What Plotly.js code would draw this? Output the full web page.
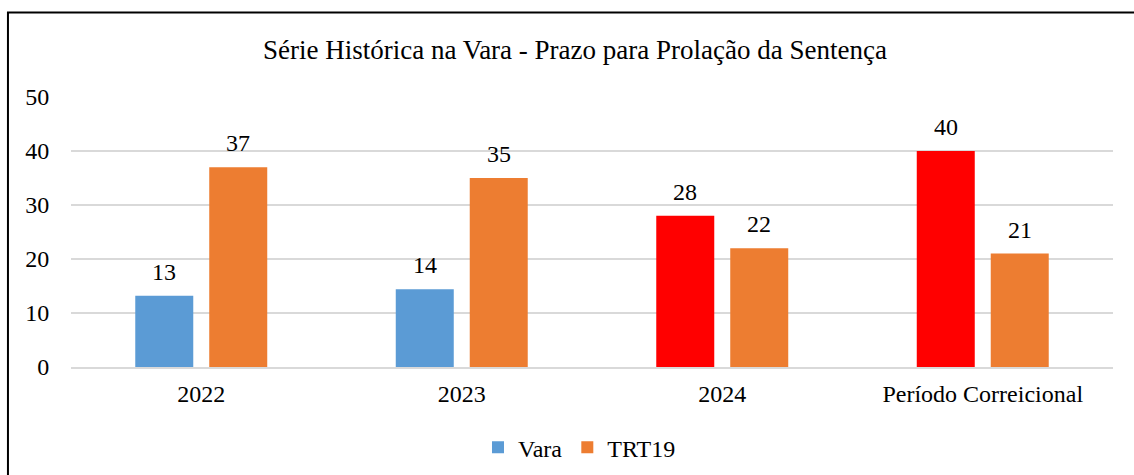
<!DOCTYPE html>
<html>
<head>
<meta charset="utf-8">
<script src="https://cdn.plot.ly/plotly-3.0.1.min.js"></script>
<style>
html,body{margin:0;padding:0;background:#fff;}
#chart{width:1134px;height:475px;}
</style>
</head>
<body>
<div id="chart"></div>
<script>
const categories = ['2022', '2023', '2024', 'Período Correicional'];
const varaValues = [13.2, 14.4, 28, 40];
const varaLabels = ['13', '14', '28', '40'];
const varaColors = ['#5B9BD5', '#5B9BD5', '#FF0000', '#FF0000'];
const trtValues = [37, 35, 22, 21];
const trtLabels = ['37', '35', '22', '21'];
const titleText = 'Série Histórica na Vara - Prazo para Prolação da Sentença';

const FONT = 'Liberation Serif';

const traces = [
  {
    type: 'bar', name: 'Vara', x: categories, y: varaValues,
    marker: {color: varaColors},
    hoverinfo: 'skip'
  },
  {
    type: 'bar', name: 'TRT19', x: categories, y: trtValues,
    marker: {color: '#ED7D31'},
    hoverinfo: 'skip'
  }
];

const BARGAP = 0.432;
const catPx = 1042 / categories.length;
const slotHalf = catPx * (1 - BARGAP) / 4;

const annotations = [];
categories.forEach((c, i) => {
  annotations.push({x: i, y: varaValues[i], xref: 'x', yref: 'y', text: varaLabels[i],
    showarrow: false, yanchor: 'bottom', xshift: -slotHalf, yshift: 9,
    font: {family: FONT, size: 24, color: '#000'}});
  annotations.push({x: i, y: trtValues[i], xref: 'x', yref: 'y', text: trtLabels[i],
    showarrow: false, yanchor: 'bottom', xshift: slotHalf, yshift: 9,
    font: {family: FONT, size: 24, color: '#000'}});
});

const layout = {
  width: 1134, height: 475,
  margin: {l: 71, r: 21, t: 97, b: 108, autoexpand: false},
  paper_bgcolor: '#fff', plot_bgcolor: '#fff',
  font: {family: FONT, size: 24, color: '#000'},
  title: {text: titleText, x: 0.507, xanchor: 'center', y: 0.895, yanchor: 'middle',
    font: {family: FONT, size: 27, color: '#000'}},
  barmode: 'group', bargap: BARGAP, bargroupgap: 0.216,
  xaxis: {type: 'category', range: [-0.5, categories.length - 0.5], showgrid: false, zeroline: false, showline: true,
    linecolor: '#d9d9d9', linewidth: 1.5, automargin: false,
    ticks: 'outside', ticklen: 5, tickcolor: 'rgba(0,0,0,0)',
    tickfont: {family: FONT, size: 24, color: '#000'}},
  yaxis: {range: [0, 50], dtick: 10, tick0: 0, showgrid: true, gridcolor: '#d9d9d9', gridwidth: 1.5,
    zeroline: false, showline: false, automargin: false,
    ticks: 'outside', ticklen: 16, tickcolor: 'rgba(0,0,0,0)',
    tickfont: {family: FONT, size: 24, color: '#000'}},
  showlegend: true,
  legend: {orientation: 'h', x: 0.488, xanchor: 'center', y: -0.299, yanchor: 'middle',
    font: {family: FONT, size: 24, color: '#000'}, itemwidth: 30, traceorder: 'normal'},
  annotations: annotations,
  shapes: [{type: 'rect', xref: 'paper', yref: 'paper',
    x0: -0.0605, x1: 1.03, y0: -0.45, y1: 1.3126,
    line: {color: '#000', width: 2}, fillcolor: 'rgba(0,0,0,0)', layer: 'above'}]
};

Plotly.newPlot('chart', traces, layout, {displayModeBar: false, staticPlot: true});
</script>
</body>
</html>
